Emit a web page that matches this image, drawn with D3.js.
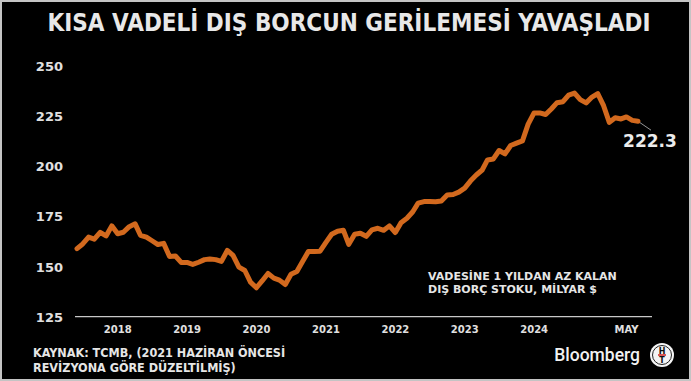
<!DOCTYPE html>
<html>
<head>
<meta charset="utf-8">
<script src="https://cdn.jsdelivr.net/npm/d3@7"></script>
<style>
  html, body { margin: 0; padding: 0; background: #000; }
  svg { display: block; }
</style>
</head>
<body>
<div class="chart"></div>
<script>
const width = 691;
const height = 381;

// monthly stock, Apr 2017 .. May 2025 (billion $)
const startMonth = new Date(2017, 3, 1);
const values = [
  158.9, 161.2, 164.6, 163.6, 167.0, 165.2, 170.2, 166.3, 167.0, 169.8,
  171.2, 165.5, 164.6, 162.8, 160.9, 161.5, 155.0, 155.2, 152.0, 152.0,
  151.0, 152.1, 153.4, 153.7, 153.4, 152.5, 158.0, 155.5, 149.7, 148.0,
  142.2, 139.4, 142.8, 146.5, 144.2, 143.2, 141.0, 146.1, 147.5, 152.5,
  157.5, 157.4, 157.6, 162.0, 166.0, 167.5, 168.0, 161.0, 166.0, 166.5,
  165.0, 168.2, 169.0, 168.0, 170.2, 166.9, 171.8, 174.0, 177.2, 181.5,
  182.3, 182.3, 182.2, 182.6, 185.6, 185.8, 187.0, 189.0, 192.5, 195.5,
  198.0, 203.0, 203.5, 207.7, 206.0, 210.2, 211.4, 212.5, 220.8, 226.4,
  226.4, 225.6, 228.5, 231.5, 232.0, 235.3, 236.3, 233.0, 231.4, 234.3,
  236.0, 230.0, 221.7, 224.0, 223.4, 224.4, 222.7, 222.3
];
const yTicks = [125, 150, 175, 200, 225, 250];
const xTickDates = [
  new Date(2018, 0, 1), new Date(2019, 0, 1), new Date(2020, 0, 1),
  new Date(2021, 0, 1), new Date(2022, 0, 1), new Date(2023, 0, 1),
  new Date(2024, 0, 1), new Date(2025, 4, 1)
];
const xTickLabels = ['2018', '2019', '2020', '2021', '2022', '2023', '2024', 'MAY'];

const title = 'KISA VADELİ DIŞ BORCUN GERİLEMESİ YAVAŞLADI';
const noteLines = ['VADESİNE 1 YILDAN AZ KALAN', 'DIŞ BORÇ STOKU, MİLYAR $'];
const sourceLines = ['KAYNAK: TCMB, (2021 HAZİRAN ÖNCESİ', 'REVİZYONA GÖRE DÜZELTİLMİŞ)'];
const lastLabel = '222.3';

const data = values.map((v, i) => ({ date: d3.timeMonth.offset(startMonth, i), value: v }));

const svg = d3
  .select('.chart')
  .append('svg')
  .attr('width', width)
  .attr('height', height)
  .attr('viewBox', [0, 0, width, height]);

svg.append('rect')
  .attr('x', 1).attr('y', 1)
  .attr('width', width - 2).attr('height', height - 2)
  .attr('fill', '#000')
  .attr('stroke', '#c4c4c4')
  .attr('stroke-width', 2);

const x = d3
  .scaleTime()
  .domain(d3.extent(data, (d) => d.date))
  .range([77, 638]);

const y = d3.scaleLinear().domain([125, 250]).range([316.7, 65.5]);

// title
svg.append('text')
  .attr('x', 349)
  .attr('y', 31)
  .attr('text-anchor', 'middle')
  .attr('fill', '#e8e8e8')
  .style('font-family', '"DejaVu Sans Condensed", "DejaVu Sans", sans-serif')
  .style('font-weight', 'bold')
  .style('font-size', '24px')
  .text(title);

// y axis
const yAxis = svg.append('g')
  .attr('transform', 'translate(63,0)')
  .call(d3.axisLeft(y).tickValues(yTicks).tickSize(0).tickPadding(0));
yAxis.select('.domain').remove();
yAxis.selectAll('text')
  .attr('fill', '#e0e0e0')
  .attr('dy', '0.36em')
  .style('font-family', '"DejaVu Sans", sans-serif')
  .style('font-weight', 'bold')
  .style('font-size', '13px');

// baseline
svg.append('line')
  .attr('x1', 75)
  .attr('x2', 652)
  .attr('y1', y(125))
  .attr('y2', y(125))
  .attr('stroke', '#c8c8c8')
  .attr('stroke-width', 1.2);

// x axis
const xAxis = svg.append('g')
  .attr('transform', `translate(0,${y(125)})`)
  .call(
    d3.axisBottom(x)
      .tickValues(xTickDates)
      .tickFormat((d, i) => xTickLabels[i])
      .tickSize(0)
      .tickPadding(9)
  );
xAxis.select('.domain').remove();
xAxis.selectAll('text')
  .attr('fill', '#e0e0e0')
  .attr('dx', -12)
  .style('font-family', '"DejaVu Sans", sans-serif')
  .style('font-weight', 'bold')
  .style('font-size', '10px');

// the series
const line = d3
  .line()
  .x((d) => x(d.date))
  .y((d) => y(d.value));

svg.append('path')
  .datum(data)
  .attr('fill', 'none')
  .attr('stroke', '#d2691e')
  .attr('stroke-width', 5)
  .attr('stroke-linejoin', 'round')
  .attr('stroke-linecap', 'round')
  .attr('d', line);

// last value label
const last = data[data.length - 1];
const lx = x(last.date);
const ly = y(last.value);
svg.append('line')
  .attr('x1', lx + 2)
  .attr('y1', ly + 1.5)
  .attr('x2', lx + 13)
  .attr('y2', ly + 9)
  .attr('stroke', '#bdbdbd')
  .attr('stroke-width', 0.8);
svg.append('text')
  .attr('x', lx + 12)
  .attr('y', ly + 25.5)
  .attr('text-anchor', 'middle')
  .attr('fill', '#ececec')
  .style('font-family', '"DejaVu Sans", sans-serif')
  .style('font-weight', 'bold')
  .style('font-size', '17px')
  .text(lastLabel);

// series note
svg.append('g')
  .selectAll('text')
  .data(noteLines)
  .join('text')
  .attr('x', 428)
  .attr('y', (d, i) => 279.5 + i * 13.5)
  .attr('fill', '#e6e6e6')
  .style('font-family', '"DejaVu Sans", sans-serif')
  .style('font-weight', 'bold')
  .style('font-size', '11px')
  .text((d) => d);

// source
svg.append('g')
  .selectAll('text')
  .data(sourceLines)
  .join('text')
  .attr('x', 33)
  .attr('y', (d, i) => 356.5 + i * 15)
  .attr('fill', '#e6e6e6')
  .style('font-family', '"DejaVu Sans Condensed", "DejaVu Sans", sans-serif')
  .style('font-weight', 'bold')
  .style('font-size', '12.5px')
  .text((d) => d);

// Bloomberg HT logo
svg.append('text')
  .attr('x', 640)
  .attr('y', 361)
  .attr('text-anchor', 'end')
  .attr('fill', '#f2f2f2')
  .style('font-family', 'Roboto, "Liberation Sans", sans-serif')
  .style('font-weight', 500)
  .style('font-size', '17.5px')
  .text('Bloomberg');

const logo = svg.append('g').attr('transform', 'translate(662,355)');
logo.append('circle').attr('r', 12).attr('fill', '#f4f4f4');
logo.append('circle').attr('r', 9.5).attr('fill', 'none').attr('stroke', '#222').attr('stroke-width', 1);
logo.append('text')
  .attr('y', -1.5)
  .attr('text-anchor', 'middle')
  .attr('fill', '#111')
  .style('font-family', '"DejaVu Sans", sans-serif')
  .style('font-weight', 'bold')
  .style('font-size', '8px')
  .text('H');
logo.append('rect')
  .attr('x', -4).attr('y', -0.8)
  .attr('width', 8).attr('height', 1.6)
  .attr('fill', '#d32f2f');
logo.append('text')
  .attr('y', 8)
  .attr('text-anchor', 'middle')
  .attr('fill', '#111')
  .style('font-family', '"DejaVu Sans", sans-serif')
  .style('font-weight', 'bold')
  .style('font-size', '8px')
  .text('T');
</script>
</body>
</html>
